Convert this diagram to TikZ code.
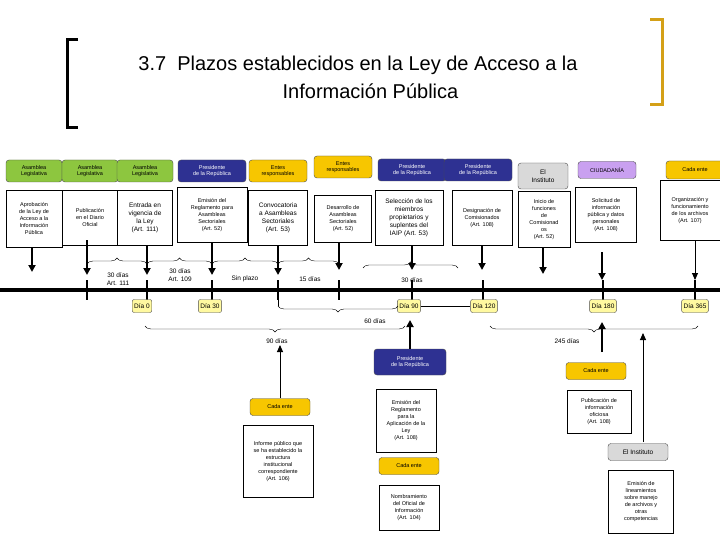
\documentclass[tikz,border=0pt]{standalone}
\usepackage{fontspec}
\setmainfont{Liberation Sans}
\usetikzlibrary{decorations.pathreplacing,arrows.meta}
\definecolor{gr}{HTML}{8DC63F}
\definecolor{nv}{HTML}{2E3192}
\definecolor{gd}{HTML}{F7C600}
\definecolor{gy}{HTML}{D9D9D9}
\definecolor{lv}{HTML}{C9A0F0}
\definecolor{dy}{HTML}{FFF9A0}
\definecolor{brk}{HTML}{D4A017}
\tikzset{
 hd/.style={draw=black!70,rounded corners=3pt,minimum height=22pt,align=center,font=\fontsize{5.5}{6.5}\selectfont,inner sep=1pt},
 hg/.style={hd,fill=gr,minimum width=56pt},
 hn/.style={hd,fill=nv,text=white,minimum width=68pt},
 ho/.style={hd,fill=gd,minimum width=58pt},
 hy/.style={hd,fill=gy},
 hl/.style={hd,fill=lv},
 tb/.style={draw,fill=white,align=center,font=\fontsize{5.5}{7}\selectfont,inner sep=2pt,anchor=north},
 day/.style={draw=black!70,fill=dy,rounded corners=2pt,font=\fontsize{6.5}{7}\selectfont,minimum height=13pt,inner sep=2pt},
 arr/.style={-{Triangle[length=7pt,width=7pt]},line width=1.8pt},
 tarr/.style={-{Triangle[length=7pt,width=6pt]},line width=0.9pt},
 br/.style={decorate,decoration={brace,amplitude=6pt},thin},
 lbl/.style={font=\fontsize{6.5}{7.5}\selectfont,align=center},
}
\begin{document}
\begin{tikzpicture}[x=1pt,y=-1pt]
\useasboundingbox (0,0) rectangle (720,540);
\fill[white] (0,0) rectangle (720,540);
% title
\node[font=\fontsize{20}{28}\selectfont,align=center] (title) at (358,77) {3.7\ \ Plazos establecidos en la Ley de Acceso a la\\\hspace*{25pt}Información Pública};
\draw[line width=3pt] (78,40) -- (67,40) -- (67,128) -- (78,128);
\draw[line width=3pt,brk] (650,20) -- (662,20) -- (662,105) -- (650,105);
% headers
\node[hg] (h1) at (34,171) {Asamblea\\Legislativa};
\node[hg] (h2) at (90,171) {Asamblea\\Legislativa};
\node[hg] (h3) at (145,171) {Asamblea\\Legislativa};
\node[hn] (h4) at (212,171) {Presidente\\de la República};
\node[ho] (h5) at (278,171) {Entes\\responsables};
\node[ho] (h6) at (343,167) {Entes\\responsables};
\node[hn] (h7) at (412,170) {Presidente\\de la República};
\node[hn] (h8) at (478,170) {Presidente\\de la República};
\node[hy,minimum width=50pt,minimum height=26pt,font=\fontsize{6.5}{8}\selectfont] (h9) at (543,176) {El\\Instituto};
\node[hl,minimum width=58pt,minimum height=17pt] (h10) at (607,170) {CIUDADANÍA};
\node[ho,minimum height=18pt] (h11) at (695,170) {Cada ente};
% text boxes
\node[tb,minimum width=56pt,minimum height=57pt] (t1) at (34,190) {Aprobación\\de la Ley de\\Acceso a la\\Información\\Pública};
\node[tb,minimum width=56pt,minimum height=55pt] (t2) at (90,190) {Publicación\\en el Diario\\Oficial};
\node[tb,minimum width=55pt,minimum height=55pt,font=\fontsize{6.5}{8}\selectfont] (t3) at (145,190) {Entrada en\\vigencia de\\la Ley\\(Art. 111)};
\node[tb,minimum width=70pt,minimum height=55pt] (t4) at (212,187) {Emisión del\\Reglamento para\\Asambleas\\Sectoriales\\(Art. 52)};
\node[tb,minimum width=59pt,minimum height=55pt,font=\fontsize{6.5}{8}\selectfont] (t5) at (278,190) {Convocatoria\\a Asambleas\\Sectoriales\\(Art. 53)};
\node[tb,minimum width=57pt,minimum height=47pt] (t6) at (343,195) {Desarrollo de\\Asambleas\\Sectoriales\\(Art. 52)};
\node[tb,minimum width=68pt,minimum height=55pt,font=\fontsize{6.5}{8}\selectfont] (t7) at (409,190) {Selección de los\\miembros\\propietarios y\\suplentes del\\IAIP (Art. 53)};
\node[tb,minimum width=60pt,minimum height=55pt] (t8) at (482,190) {Designación de\\Comisionados\\(Art. 108)};
\node[tb,minimum width=52pt,minimum height=56pt] (t9) at (544,191) {Inicio de\\funciones\\de\\Comisionad\\os\\(Art. 52)};
\node[tb,minimum width=61pt,minimum height=55pt] (t10) at (606,187) {Solicitud de\\información\\pública y datos\\personales\\(Art. 108)};
\node[tb,minimum width=60pt,minimum height=60pt] (t11) at (690,180) {Organización y\\funcionamiento\\de los archivos\\(Art. 107)};
% timeline
\coordinate (L0) at (0,290); \coordinate (L1) at (720,290);
\draw[line width=4pt] (L0) -- (L1);
\foreach \n/\x in {a/87,b/147,c/212,d/278,e/339,f/412,g/483,h/603,i/695}{
 \coordinate (k\n) at (\x,290);
 \draw[line width=2pt] (\x,280) -- (\x,300);}
% arrows down
\draw[arr] (32,247) -- (32,272);
\draw[arr] (87,240) -- (87,275);
\draw[arr] (147,245) -- (147,275);
\draw[arr] (212,242) -- (212,275);
\draw[arr] (278,245) -- (278,275);
\draw[arr] (339,242) -- (339,270);
\draw[arr] (412,245) -- (412,270);
\draw[arr] (482,245) -- (482,270);
\draw[arr] (543,247) -- (543,274);
\draw[arr] (602,252) -- (602,280);
\draw[tarr] (695,240) -- (695,280);
% braces above timeline
\coordinate (ba) at (87,264); \coordinate (bb) at (147,264); \coordinate (bc) at (212,264);
\coordinate (bd) at (278,264); \coordinate (be) at (339,264);
\coordinate (bf) at (363,268); \coordinate (bg) at (458,268);
\draw[br] (ba) -- (bb);
\draw[br] (bb) -- (bc);
\draw[br] (bc) -- (bd);
\draw[br] (bd) -- (be);
\draw[br] (bf) -- (bg);
\node[lbl] (l1) at (118,279) {30 días\\Art. 111};
\node[lbl] (l2) at (180,275) {30 días\\Art. 109};
\node[lbl] (l3) at (245,279) {Sin plazo};
\node[lbl] (l4) at (310,279) {15 días};
\node[lbl] (l5) at (412,280) {30 días};
% day boxes
\node[day] (d0) at (142,306) {Día 0};
\node[day] (d30) at (210,306) {Día 30};
\node[day] (d90) at (409,306) {Día 90};
\node[day] (d120) at (484,306) {Día 120};
\node[day] (d180) at (603,306) {Día 180};
\node[day] (d365) at (695,306) {Día 365};
\draw (d90.east) -- (d120.west);
% 60 dias brace
\draw[thin] (278,300) -- (278,306);
\draw[br,decoration={mirror}] (278,306) -- (398,306);
\node[lbl] (l60) at (375,321) {60 días};
% 90 and 245 braces
\draw[br,decoration={mirror}] (145,326) -- (405,326);
\node[lbl] (l90) at (277,341) {90 días};
\draw[br,decoration={mirror}] (490,326) -- (698,326);
\node[lbl] (l245) at (567,341) {245 días};
% lower left
\node[hn,minimum width=72pt,minimum height=26pt] (p1) at (410,362) {Presidente\\de la República};
\draw[arr] (p1.north) -- (410,320);
\node[ho,minimum width=60pt,minimum height=17pt] (c1) at (280,407) {Cada ente};
\draw[tarr] (c1.north) -- (280,345);
\node[tb,minimum width=70pt,minimum height=72pt] (x1) at (278,425) {Informe público que\\se ha establecido la\\estructura\\institucional\\correspondiente\\(Art. 106)};
\node[tb,minimum width=60pt,minimum height=63pt] (x2) at (406,389) {Emisión del\\Reglamento\\para la\\Aplicación de la\\Ley\\(Art. 108)};
\node[ho,minimum width=60pt,minimum height=17pt] (c2) at (409,466) {Cada ente};
\node[tb,minimum width=60pt,minimum height=45pt] (x3) at (409,485) {Nombramiento\\del Oficial de\\Información\\(Art. 104)};
% lower right
\node[ho,minimum width=60pt,minimum height=17pt] (c3) at (596,371) {Cada ente};
\draw[arr] (602,352) -- (602,322);
\node[tb,minimum width=64pt,minimum height=43pt] (x4) at (599,390) {Publicación de\\información\\oficiosa\\(Art. 108)};
\node[hy,minimum width=60pt,minimum height=17pt,font=\fontsize{6.5}{7}\selectfont] (i2) at (638,452) {El Instituto};
\draw[tarr] (643,442) -- (643,333);
\node[tb,minimum width=65pt,minimum height=63pt] (x5) at (641,470) {Emisión de\\lineamientos\\sobre manejo\\de archivos y\\otras\\competencias};
\end{tikzpicture}
\end{document}
